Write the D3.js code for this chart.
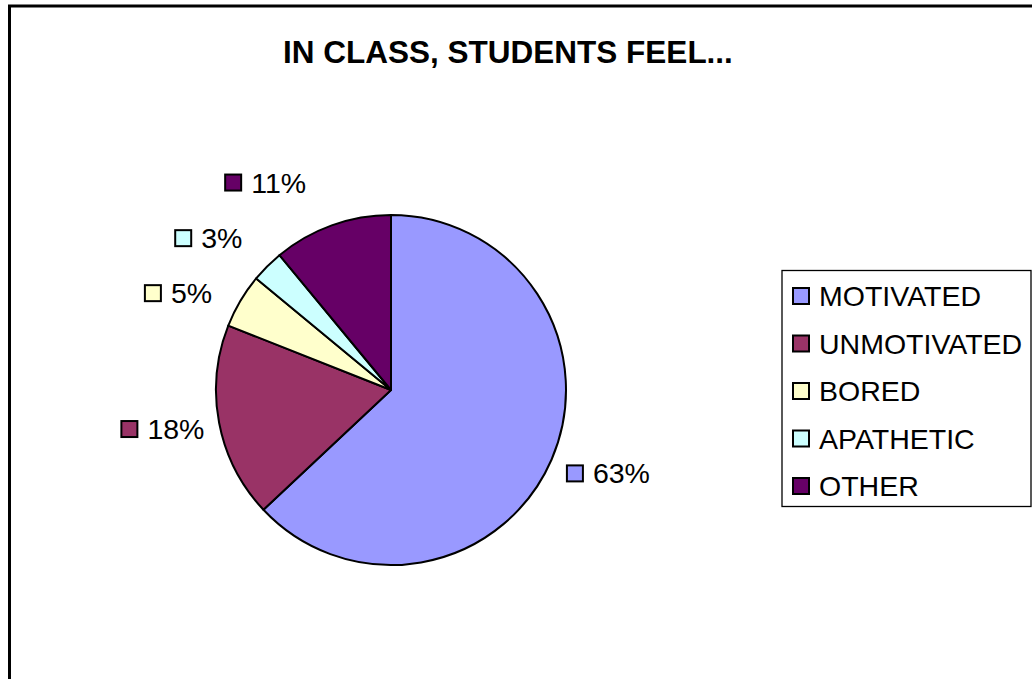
<!DOCTYPE html>
<html>
<head>
<meta charset="utf-8">
<script src="https://cdn.jsdelivr.net/npm/d3@7"></script>
<style>
  html, body { margin: 0; padding: 0; background: #fff; }
  svg { display: block; }
  text { font-family: Arial, "Liberation Sans", sans-serif; fill: #000; }
</style>
</head>
<body>
<svg id="chart" width="1032" height="679"></svg>
<script>
// Survey answers: how students feel in class (percent of responses)
const categories = ["MOTIVATED", "UNMOTIVATED", "BORED", "APATHETIC", "OTHER"];
const values = [63, 18, 5, 3, 11];
const colors = ["#9999FF", "#993366", "#FFFFCC", "#CCFFFF", "#660066"];
const title = "IN CLASS, STUDENTS FEEL...";

const width = 1032, height = 679;
const svg = d3.select("#chart");

// outer chart frame (runs past the right and bottom edges)
svg.append("rect")
  .attr("x", 9.5).attr("y", 6)
  .attr("width", width + 40).attr("height", height + 40)
  .attr("fill", "#fff")
  .attr("stroke", "#000")
  .attr("stroke-width", 3);

// title
svg.append("text")
  .attr("x", 508).attr("y", 63)
  .attr("text-anchor", "middle")
  .style("font-size", "31.5px")
  .style("font-weight", "bold")
  .text(title);

// pie geometry
const cx = 391, cy = 390, r = 175;
const color = d3.scaleOrdinal().domain(categories).range(colors);

const pie = d3.pie().sort(null).value(d => d.value);
const data = categories.map((c, i) => ({ category: c, value: values[i] }));
const arcs = pie(data);
const arc = d3.arc().innerRadius(0).outerRadius(r);

const g = svg.append("g").attr("transform", `translate(${cx},${cy})`);
g.selectAll("path")
  .data(arcs)
  .join("path")
  .attr("d", arc)
  .attr("fill", d => color(d.data.category))
  .attr("stroke", "#000")
  .attr("stroke-width", 2)
  .attr("stroke-linejoin", "round");

// data labels: centres sit on an ellipse around the pie, pushed apart vertically
const fontSize = 28.5;
const swatch = 16, swatchGap = 10;
const ellA = r + 56, ellB = r + 72;
const minGap = 55;
const topBound = cy - r - 35;

const fmt = v => Math.round(v) + "%";

// measure label text widths
const measure = svg.append("text").style("font-size", fontSize + "px").attr("visibility", "hidden");
const labels = arcs.map(a => {
  const text = fmt(a.data.value);
  measure.text(text);
  const tw = measure.node().getComputedTextLength();
  const th = (a.startAngle + a.endAngle) / 2;
  const s = Math.sin(th), c = Math.cos(th);
  const t = 1 / Math.sqrt((s * s) / (ellA * ellA) + (c * c) / (ellB * ellB));
  return {
    arc: a, text, w: swatch + swatchGap + tw,
    side: s < 0 ? -1 : 1,
    x: t * s, y: -t * c * 0.9
  };
});
measure.remove();

[-1, 1].forEach(side => {
  const group = labels.filter(l => l.side === side).sort((a, b) => a.y - b.y);
  let prev = -Infinity;
  group.forEach(l => {
    l.y = Math.max(l.y, prev + minGap, topBound - cy);
    prev = l.y;
    const k = Math.max(0, 1 - (l.y * l.y) / (ellB * ellB));
    l.x = side * ellA * Math.sqrt(k);
  });
});

const lg = g.selectAll("g.label")
  .data(labels)
  .join("g")
  .attr("class", "label")
  .attr("transform", d => `translate(${d.x - d.w / 2},${d.y})`);

lg.append("rect")
  .attr("x", 0).attr("y", -swatch / 2)
  .attr("width", swatch).attr("height", swatch)
  .attr("fill", d => color(d.arc.data.category))
  .attr("stroke", "#000")
  .attr("stroke-width", 2);

lg.append("text")
  .attr("x", swatch + swatchGap)
  .attr("y", 10)
  .style("font-size", fontSize + "px")
  .text(d => d.text);

// legend
const legend = svg.append("g");
legend.append("rect")
  .attr("x", 782).attr("y", 270.5)
  .attr("width", 249).attr("height", 236)
  .attr("fill", "#fff")
  .attr("stroke", "#000")
  .attr("stroke-width", 1.3);

const rowY = d3.scalePoint().domain(categories).range([296, 486]);
const rows = legend.selectAll("g.row")
  .data(categories)
  .join("g")
  .attr("class", "row")
  .attr("transform", d => `translate(793,${rowY(d)})`);

rows.append("rect")
  .attr("x", 0).attr("y", -8)
  .attr("width", swatch).attr("height", swatch)
  .attr("fill", d => color(d))
  .attr("stroke", "#000")
  .attr("stroke-width", 2);

rows.append("text")
  .attr("x", 26).attr("y", 10)
  .style("font-size", fontSize + "px")
  .text(d => d);
</script>
</body>
</html>
